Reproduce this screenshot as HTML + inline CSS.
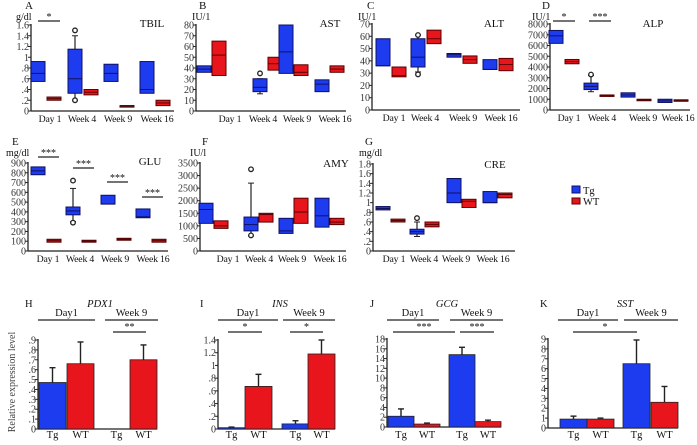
<!DOCTYPE html>
<html><head><meta charset="utf-8"><style>
body{margin:0;background:#fff}
svg{display:block;font-family:"Liberation Serif",serif}
</style></head><body>
<svg id="fig" width="697" height="445" viewBox="0 0 697 445" xmlns="http://www.w3.org/2000/svg"></svg>
<script>
// ---------- DATA ----------
const CATS = ["Day 1","Week 4","Week 9","Week 16"];
const TBIL_TG=[[0.55,0.7,0.92],[0.33,0.6,1.15],[0.55,0.7,0.87],[0.33,0.4,0.92]];
const TBIL_WT=[[0.2,0.23,0.26],[0.3,0.35,0.4],[0.1,0.1,0.1],[0.1,0.15,0.2]];
const TBIL_WH=[null,[0.2,1.4],null,null];
const TBIL_OUT=[[],[1.5,0.2],[],[]];
const AST_TG=[[36,39,42],[18,22,30],[35,55,80],[18,25,29]];
const AST_WT=[[33,52,65],[38,44,50],[33,36,43],[36,39,42]];
const AST_WH=[null,[16,30],null,null];
const AST_OUT=[[],[35],[],[]];
const ALT_TG=[[36,36,58],[35,43,58],[43,45,46],[33,33,41]];
const ALT_WT=[[27,28,35],[54,58,65],[38,41,44],[32,37,42]];
const ALT_WH=[null,[31,61],null,null];
const ALT_OUT=[[],[61,29],[],[]];
const ALP_TG=[[6200,6900,7400],[1900,2200,2500],[1200,1400,1600],[700,850,1000]];
const ALP_WT=[[4300,4500,4700],[1300,1350,1400],[900,950,1000],[850,900,950]];
const ALP_WH=[null,[1700,3200],null,null];
const ALP_OUT=[[],[3300],[],[]];
const GLU_TG=[[780,820,860],[370,410,450],[480,480,570],[340,350,430]];
const GLU_WT=[[90,105,120],[90,100,110],[110,120,130],[90,105,120]];
const GLU_WH=[null,[300,640],null,null];
const GLU_OUT=[[],[720,290],[],[]];
const AMY_TG=[[1100,1650,1900],[800,1050,1350],[700,800,1300],[950,1400,2100]];
const AMY_WT=[[900,1000,1200],[1150,1450,1500],[1100,1550,2100],[1050,1150,1300]];
const AMY_WH=[null,[600,2700],null,null];
const AMY_OUT=[[],[3250,620],[],[]];
const CRE_TG=[[0.85,0.88,0.92],[0.35,0.4,0.45],[1.0,1.2,1.5],[1.0,1.0,1.23]];
const CRE_WT=[[0.6,0.63,0.66],[0.5,0.55,0.6],[0.9,1.03,1.07],[1.1,1.17,1.2]];
const CRE_WH=[null,[0.3,0.6],null,null];
const CRE_OUT=[[],[0.68],[],[]];
const BAR_GROUPS=["Tg","WT","Tg","WT"];
const PDX1_VAL=[0.47,0.66,0,0.70]; const PDX1_ERR=[0.15,0.22,0,0.15];
const INS_VAL=[0.02,0.67,0.08,1.18];  const INS_ERR=[0.01,0.19,0.05,0.22];
const GCG_VAL=[2.2,0.6,14.8,1.1];     const GCG_ERR=[1.5,0.2,1.5,0.3];
const SST_VAL=[0.9,0.9,6.5,2.6];      const SST_ERR=[0.3,0.1,2.4,1.6];
const TICK_A=["0",".2",".4",".6",".8","1","1.2","1.4","1.6"];
const TICK_B=["0","10","20","30","40","50","60","70","80"];
const TICK_C=["0","10","20","30","40","50","60","70"];
const TICK_D=["0","1000","2000","3000","4000","5000","6000","7000","8000"];
const TICK_E=["0","100","200","300","400","500","600","700","800","900"];
const TICK_F=["0","500","1000","1500","2000","2500","3000","3500"];
const TICK_G=["0",".2",".4",".6",".8","1","1.2","1.4","1.6","1.8"];
const TICK_H=["0",".1",".2",".3",".4",".5",".6",".7",".8",".9"];
const TICK_I=["0",".2",".4",".6",".8","1","1.2","1.4"];
const TICK_J=["0","2","4","6","8","10","12","14","16","18"];
const TICK_K=["0","1","2","3","4","5","6","7","8","9"];

// ---------- DRAW ----------
const NS="http://www.w3.org/2000/svg";
const svg=document.getElementById('fig');
const BLUE="#1d3cf0", RED="#e8161c";
function mk(tag,attrs,parent){const e=document.createElementNS(NS,tag);for(const k in attrs)e.setAttribute(k,attrs[k]);(parent||svg).appendChild(e);return e;}
function txt(x,y,s,size,anchor,parent,extra){const t=mk('text',Object.assign({x:x,y:y,'font-size':size,'text-anchor':anchor||'start',fill:'#111'},extra||{}),parent);t.textContent=s;return t;}

function axisY(g,ax,y0,y1,ticks){
  const l=mk('line',{x1:ax,y1:y0,x2:ax,y2:y1-1,stroke:'#222','stroke-width':1.3},g);
  
  
  const n=ticks.length;
  ticks.forEach((s,i)=>{
    const y=y0-(y0-y1)*i/(n-1);
    mk('line',{x1:ax-3,y1:y,x2:ax,y2:y,stroke:'#222'},g);
    const t=txt(ax-2,y+3.5,s,10,'end',g,{fill:'#333'});
    
    
  });
}

function boxPanel(cfg){
  const g=mk('g',{});
  
  
  const maxV=cfg.max, y0=cfg.y0, y1=cfg.y1;
  const Y=v=>y0-(y0-y1)*v/maxV;
  axisY(g,cfg.ax,y0,y1,cfg.ticks);
  const xl=mk('line',{x1:cfg.ax,y1:y0,x2:cfg.xend,y2:y0,stroke:'#222','stroke-width':1.3},g);
  
  
  const bw=14;
  CATS.forEach((c,i)=>{
    const cx=cfg.centers[i];
    const lab=txt(cfg.labels[i],y0+11,c,9.8,'middle',g,{'letter-spacing':'-0.2'});
    
    
    [[cfg.tg,BLUE,cx,'#101060'],[cfg.wt,RED,cx+cfg.off,'#5a0000']].forEach(([arr,col,x,st],k)=>{
      const b=arr[i];
      if(k===0&&cfg.wh[i]){
        const w=cfg.wh[i];
        mk('line',{x1:x,y1:Y(w[0]),x2:x,y2:Y(w[1]),stroke:'#222','stroke-width':1.2},g);
        mk('line',{x1:x-3,y1:Y(w[0]),x2:x+3,y2:Y(w[0]),stroke:'#222'},g);
        mk('line',{x1:x-3,y1:Y(w[1]),x2:x+3,y2:Y(w[1]),stroke:'#222'},g);
      }
      const h=Math.max(Y(b[0])-Y(b[2]),1.5);
      const r=mk('rect',{x:x-bw/2,y:Y(b[2]),width:bw,height:h,fill:h<2?'#333':col,stroke:st,'stroke-width':1},g);
      
      
      mk('line',{x1:x-bw/2,y1:Y(b[1]),x2:x+bw/2,y2:Y(b[1]),stroke:st,'stroke-width':1},g);
      if(k===0) cfg.out[i].forEach(o=>mk('circle',{cx:x,cy:Y(o),r:2.3,fill:'#fff',stroke:'#222','stroke-width':1.3},g));
    });
  });
  (cfg.sig||[]).forEach(s=>{
    mk('line',{x1:s[0],y1:s[2],x2:s[1],y2:s[2],stroke:'#222','stroke-width':1.2},g);
    const t=txt((s[0]+s[1])/2,s[2]-1,s[3],10,'middle',g);
    
    
  });
  txt(cfg.lx,cfg.ly,cfg.letter,11,'start',g);
  txt(cfg.ux,cfg.ly+11,cfg.unit,10,'start',g);
  const tt=txt(cfg.tx,cfg.ty,cfg.title,11,'middle',g);
  
  
}

function barPanel(cfg){
  const g=mk('g',{});
  
  
  const y0=cfg.y0,y1=cfg.y1,maxV=cfg.max;
  const Y=v=>y0-(y0-y1)*v/maxV;
  axisY(g,cfg.ax,y0,y1,cfg.ticks);
  mk('line',{x1:cfg.ax,y1:y0,x2:cfg.xs[3]+cfg.bw,y2:y0,stroke:'#222','stroke-width':1.3},g);
  cfg.vals.forEach((v,i)=>{
    const x=cfg.xs[i], col=i%2===0?BLUE:RED;
    const top=Y(v+cfg.errs[i]);
    if(v>0){
      mk('line',{x1:x+cfg.bw/2,y1:Y(v),x2:x+cfg.bw/2,y2:top,stroke:'#222','stroke-width':1.4},g);
      mk('line',{x1:x+cfg.bw/2-3,y1:top,x2:x+cfg.bw/2+3,y2:top,stroke:'#222','stroke-width':1.4},g);
    }
    const r=mk('rect',{x:x,y:Y(v),width:cfg.bw,height:y0-Y(v),fill:col,stroke:'#222','stroke-width':0.8},g);
    
    
    const t=txt(x+cfg.bw/2,438,BAR_GROUPS[i],10.5,'middle',g);
    
    
  });
  cfg.hdr.forEach(h=>{
    mk('line',{x1:h[0],y1:320,x2:h[1],y2:320,stroke:'#222','stroke-width':1.3},g);
    txt((h[0]+h[1])/2,316,h[2],10.5,'middle',g);
  });
  cfg.sig.forEach(s=>{
    mk('line',{x1:s[0],y1:332,x2:s[1],y2:332,stroke:'#222','stroke-width':1.3},g);
    txt((s[0]+s[1])/2,330,s[2],10,'middle',g);
  });
  txt(cfg.lx,307,cfg.letter,10.5,'start',g);
  const tt=txt(cfg.tx,307,cfg.title,10.5,'middle',g,{'font-style':'italic'});
  
  
}

boxPanel({name:'panel-a-tbil',letter:'A',unit:'g/dl',title:'TBIL',lx:25,ux:16,ly:9,tx:152,ty:27,ax:31,xend:174,y0:111,y1:25,max:1.6,ticks:TICK_A,centers:[38,75,111,147],labels:[50,82,118,157],off:16,tg:TBIL_TG,wt:TBIL_WT,wh:TBIL_WH,out:TBIL_OUT,sig:[[38,60,21,'*']]});
boxPanel({name:'panel-b-ast',letter:'B',unit:'IU/1',title:'AST',lx:199,ux:192,ly:9,tx:330,ty:27,ax:196,xend:346,y0:111,y1:25,max:80,ticks:TICK_B,centers:[204,260,286,322],labels:[230,263,297,335],off:15,tg:AST_TG,wt:AST_WT,wh:AST_WH,out:AST_OUT});
boxPanel({name:'panel-c-alt',letter:'C',unit:'IU/1',title:'ALT',lx:367,ux:358,ly:9,tx:494,ty:27,ax:372,xend:520,y0:110,y1:24,max:70,ticks:TICK_C,centers:[383,418,454,490],labels:[394,425,463,501],off:16,tg:ALT_TG,wt:ALT_WT,wh:ALT_WH,out:ALT_OUT});
boxPanel({name:'panel-d-alp',letter:'D',unit:'IU/1',title:'ALP',lx:542,ux:532,ly:9,tx:653,ty:27,ax:550,xend:690,y0:110,y1:24,max:8000,ticks:TICK_D,centers:[556,591,628,665],labels:[569,602,643,678],off:16,tg:ALP_TG,wt:ALP_WT,wh:ALP_WH,out:ALP_OUT,sig:[[553,575,21,'*'],[589,611,21,'***']]});
boxPanel({name:'panel-e-glu',letter:'E',unit:'mg/dl',title:'GLU',lx:12,ux:6,ly:145,tx:150,ty:165,ax:28,xend:168,y0:251,y1:163,max:900,ticks:TICK_E,centers:[38,73,108,143],labels:[48,80,115,153],off:16,tg:GLU_TG,wt:GLU_WT,wh:GLU_WH,out:GLU_OUT,sig:[[38,59,157,'***'],[73,94,168,'***'],[107,128,182,'***'],[142,163,197,'***']]});
boxPanel({name:'panel-f-amy',letter:'F',unit:'IU/l',title:'AMY',lx:202,ux:190,ly:145,tx:336,ty:167,ax:200,xend:346,y0:251,y1:163,max:3500,ticks:TICK_F,centers:[206,251,286,322],labels:[228,259,292,330],off:15,tg:AMY_TG,wt:AMY_WT,wh:AMY_WH,out:AMY_OUT});
boxPanel({name:'panel-g-cre',letter:'G',unit:'mg/dl',title:'CRE',lx:365,ux:359,ly:145,tx:495,ty:168,ax:373,xend:515,y0:251,y1:164,max:1.8,ticks:TICK_G,centers:[383,417,454,490],labels:[394,424,456,493],off:15,tg:CRE_TG,wt:CRE_WT,wh:CRE_WH,out:CRE_OUT});

barPanel({name:'panel-h-pdx1',letter:'H',title:'PDX1',lx:25,tx:100,ax:38,y0:429,y1:340,max:0.9,ticks:TICK_H,xs:[39,67,103,130],bw:27,vals:PDX1_VAL,errs:PDX1_ERR,hdr:[[38,95,'Day1'],[105,158,'Week 9']],sig:[[113,146,'**']]});
barPanel({name:'panel-i-ins',letter:'I',title:'INS',lx:200,tx:280,ax:218,y0:429,y1:340,max:1.4,ticks:TICK_I,xs:[218,245,282,308],bw:27,vals:INS_VAL,errs:INS_ERR,hdr:[[218,278,'Day1'],[283,335,'Week 9']],sig:[[228,262,'*'],[290,323,'*']]});
barPanel({name:'panel-j-gcg',letter:'J',title:'GCG',lx:370,tx:447,ax:387,y0:427,y1:339,max:18,ticks:TICK_J,xs:[388,414,449,475],bw:26,vals:GCG_VAL,errs:GCG_ERR,hdr:[[387,439,'Day1'],[450,503,'Week 9']],sig:[[393,455,'***'],[460,494,'***']]});
barPanel({name:'panel-k-sst',letter:'K',title:'SST',lx:540,tx:625,ax:548,y0:428,y1:339,max:9,ticks:TICK_K,xs:[560,587,623,651],bw:27,vals:SST_VAL,errs:SST_ERR,hdr:[[558,618,'Day1'],[624,678,'Week 9']],sig:[[573,637,'*']]});

const yl=txt(0,0,'Relative expression level',10,'middle',svg,{transform:'translate(15,382) rotate(-90)',fill:'#444'});



const lg=mk('g',{});


const l1=mk('rect',{x:572,y:186,width:8,height:7,fill:BLUE,stroke:'#101060'},lg);


txt(583,194,'Tg',10.5,'start',lg);
const l2=mk('rect',{x:572,y:198,width:8,height:6,fill:RED,stroke:'#5a0000'},lg);


txt(583,205,'WT',10.5,'start',lg);
</script>
</body></html>
